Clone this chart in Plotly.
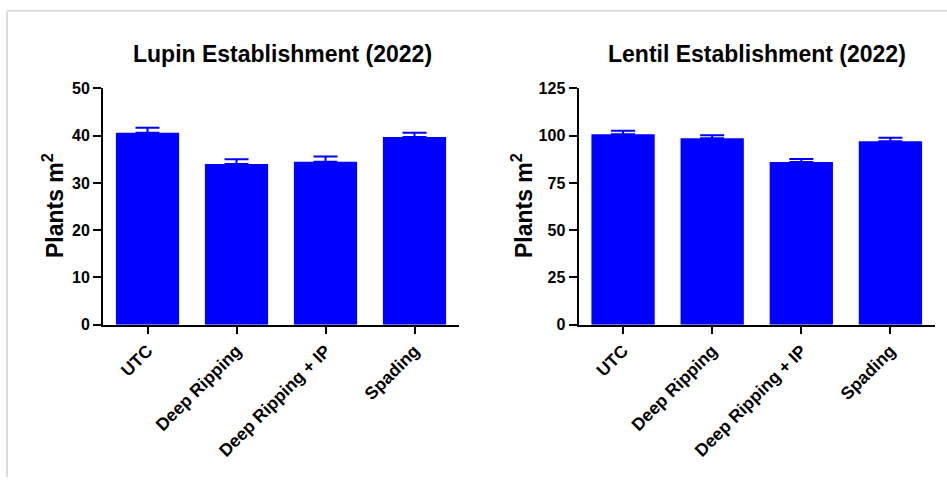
import plotly.graph_objects as go

categories = ["UTC", "Deep Ripping", "Deep Ripping + IP", "Spading"]
lupin_values = [40.6, 34.0, 34.5, 39.7]
lupin_errors = [1.1, 1.0, 1.1, 0.9]
lentil_values = [100.8, 98.6, 86.1, 97.0]
lentil_errors = [1.8, 1.7, 1.6, 1.9]
lupin_ticks = [0, 10, 20, 30, 40, 50]
lentil_ticks = [0, 25, 50, 75, 100, 125]

W, H = 947, 486
FONT = "Liberation Sans, Arial, sans-serif"
BLUE = "#0000FF"

# observed vertical mapping of the capture: shown_y = 7.3 + 0.968 * layout_y
V_OFF, V_SCALE = 7.3, 0.968


def px_x(x):
    return x / W


def px_y(y):
    y_layout = (y - V_OFF) / V_SCALE
    return 1 - y_layout / H


fig = go.Figure()

for vals, errs, xa, ya in [(lupin_values, lupin_errors, "x", "y"),
                           (lentil_values, lentil_errors, "x2", "y2")]:
    fig.add_trace(go.Bar(
        x=categories, y=vals, xaxis=xa, yaxis=ya, width=0.71,
        marker=dict(color=BLUE, line=dict(width=0)),
        error_y=dict(type="data", symmetric=False, array=errs,
                     arrayminus=[0] * len(errs), color=BLUE,
                     thickness=2, width=12),
        showlegend=False,
    ))

ydom = [px_y(325), px_y(88)]
xtickfont = dict(family=FONT, size=17.5, color="black", weight="bold")
ytickfont = dict(family=FONT, size=16, color="black", weight="bold")
common_x = dict(type="category", range=[-0.5, 3.5], showline=True, linecolor="black",
                linewidth=2, ticks="outside", ticklen=7, tickwidth=2, tickcolor="black",
                tickangle=-45, showgrid=False, zeroline=False,
                tickfont=xtickfont, fixedrange=True)
common_y = dict(showline=True, linecolor="black", linewidth=2, ticks="outside",
                ticklen=8, tickwidth=2, tickcolor="black", showgrid=False, zeroline=False,
                tickfont=ytickfont, domain=ydom)

fig.update_layout(
    width=W, height=H,
    margin=dict(l=0, r=0, t=0, b=0),
    paper_bgcolor="white", plot_bgcolor="white",
    bargap=0.29,
    xaxis=dict(domain=[px_x(103), px_x(459)], anchor="y", **common_x),
    yaxis=dict(range=[0, 50], tickvals=lupin_ticks, anchor="x", **common_y),
    xaxis2=dict(domain=[px_x(578.5), px_x(935)], anchor="y2", **common_x),
    yaxis2=dict(range=[0, 125], tickvals=lentil_ticks, anchor="x2", **common_y),
    font=dict(family=FONT, color="black"),
)

annotations = [
    dict(text="<b>Lupin Establishment (2022)</b>", x=px_x(282), y=px_y(53)),
    dict(text="<b>Lentil Establishment (2022)</b>", x=px_x(757), y=px_y(53)),
]
for a in annotations:
    a.update(xref="paper", yref="paper", showarrow=False, xanchor="center", yanchor="middle",
             font=dict(family=FONT, size=23, color="black"))
ytitles = [
    dict(text="<b>Plants m<sup>2</sup></b>", x=px_x(53), y=px_y(206)),
    dict(text="<b>Plants m<sup>2</sup></b>", x=px_x(522), y=px_y(206)),
]
for a in ytitles:
    a.update(xref="paper", yref="paper", showarrow=False, xanchor="center", yanchor="middle",
             textangle=-90, font=dict(family=FONT, size=23, color="black"))
fig.update_layout(annotations=annotations + ytitles)

fig.update_layout(shapes=[
    dict(type="line", xref="paper", yref="paper", x0=px_x(7), x1=1, y0=px_y(10), y1=px_y(10),
         line=dict(color="#dcdcdc", width=2)),
    dict(type="line", xref="paper", yref="paper", x0=px_x(7), x1=px_x(7), y0=px_y(10), y1=0,
         line=dict(color="#dcdcdc", width=2)),
])

fig.write_html("out.html", config=dict(displayModeBar=False))
